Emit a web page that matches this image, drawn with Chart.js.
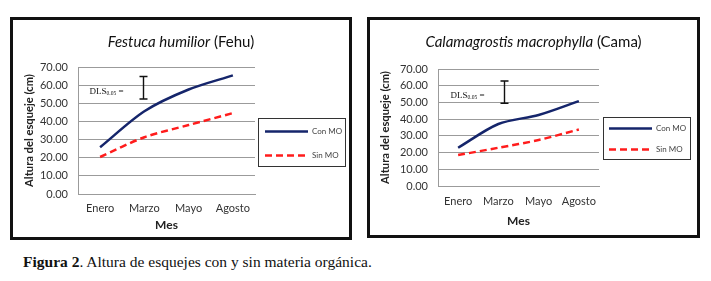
<!DOCTYPE html>
<html lang="es">
  <head>
    <meta charset="utf-8" />
    <title>Figura 2</title>
    <style>
      * {
        margin: 0;
        padding: 0;
        box-sizing: border-box;
      }
      body {
        width: 711px;
        height: 281px;
        background: white;
        position: relative;
        overflow: hidden;
        font-family: Lato, sans-serif;
      }
      .frame {
        position: absolute;
        border: 3px solid #111;
        background: white;
      }
      #frameA {
        left: 10px;
        top: 17px;
        width: 342px;
        height: 223px;
      }
      #frameB {
        left: 367px;
        top: 17px;
        width: 333px;
        height: 221px;
      }
      .frame canvas {
        position: absolute;
        left: 0;
        top: 0;
      }
      .title {
        position: absolute;
        left: 0;
        width: 100%;
        top: 12px;
        line-height: 18px;
        text-align: center;
        font-size: 15px;
        color: #111;
        z-index: 2;
      }
      .caption {
        position: absolute;
        left: 23px;
        top: 253px;
        font-family: "Liberation Serif", serif;
        font-size: 15.5px;
        color: #111;
      }
    </style>
  </head>
  <body>
    <div class="frame" id="frameA">
      <div class="title"><i>Festuca humilior</i> (Fehu)</div>
      <canvas id="chartA" width="336" height="217"></canvas>
    </div>
    <div class="frame" id="frameB">
      <div class="title"><i>Calamagrostis macrophylla</i> (Cama)</div>
      <canvas id="chartB" width="327" height="215"></canvas>
    </div>
    <div class="caption"><b>Figura 2</b>. Altura de esquejes con y sin materia orgánica.</div>

    <script src="https://cdn.jsdelivr.net/npm/chart.js"></script>

    <script>
      // data
      const months = ["Enero", "Marzo", "Mayo", "Agosto"];
      const seriesNames = ["Con MO", "Sin MO"];
      const fehuCon = [25.8, 45.6, 57.6, 65.4];
      const fehuSin = [20.4, 31.3, 38.0, 44.6];
      const camaCon = [22.9, 37.1, 42.5, 50.8];
      const camaSin = [18.5, 22.9, 27.5, 33.8];
      // DLS 0.05 bars (low, high)
      const fehuDls = [52.4, 64.8];
      const camaDls = [49.5, 62.8];
      const yMin = 0;
      const yMax = 70;
      const yStep = 10;

      const navy = "#15256b";
      const red = "#ff1c1c";
      const grey = "#9b9b9b";

      // draws the DLS bar and the boxed legend
      const extras = {
        id: "extras",
        afterDatasetsDraw(chart, args, opts) {
          const { ctx, data, scales } = chart;
          const { x, y } = scales;
          ctx.save();

          // DLS bar
          const bx = Math.round(x.getPixelForValue(opts.dlsAt)) + 0.5;
          const y0 = y.getPixelForValue(opts.dls[0]);
          const y1 = y.getPixelForValue(opts.dls[1]);
          ctx.strokeStyle = "#111";
          ctx.lineWidth = 1.4;
          ctx.beginPath();
          ctx.moveTo(bx, y0);
          ctx.lineTo(bx, y1);
          ctx.moveTo(bx - 4, y0);
          ctx.lineTo(bx + 4, y0);
          ctx.moveTo(bx - 4, y1);
          ctx.lineTo(bx + 4, y1);
          ctx.stroke();

          // DLS label, right end a bit left of the bar
          const ty = (y0 + y1) / 2 + 3.5;
          const big = "9px 'Liberation Serif', serif";
          const small = "5.5px 'Liberation Serif', serif";
          ctx.fillStyle = "#111";
          ctx.textBaseline = "middle";
          ctx.textAlign = "left";
          ctx.font = big;
          const w1 = ctx.measureText("DLS").width;
          const w3 = ctx.measureText(" =").width;
          ctx.font = small;
          const w2 = ctx.measureText("0.05").width;
          let tx = bx - 20 - (w1 + w2 + w3);
          ctx.font = big;
          ctx.fillText("DLS", tx, ty);
          ctx.font = small;
          ctx.fillText("0.05", tx + w1, ty + 2);
          ctx.font = big;
          ctx.fillText(" =", tx + w1 + w2, ty);

          // legend box
          const lg = opts.legend;
          ctx.strokeStyle = "#333";
          ctx.lineWidth = 1;
          ctx.setLineDash([]);
          ctx.strokeRect(lg.left + 0.5, lg.top + 0.5, lg.width, lg.height);
          ctx.font = "8px Lato, sans-serif";
          data.datasets.forEach((ds, i) => {
            const ly = lg.top + lg.rows[i] + 0.5;
            ctx.strokeStyle = ds.borderColor;
            ctx.lineWidth = ds.borderWidth;
            ctx.setLineDash(ds.borderDash || []);
            ctx.beginPath();
            ctx.moveTo(lg.left + lg.lineX[0], ly);
            ctx.lineTo(lg.left + lg.lineX[1], ly);
            ctx.stroke();
            ctx.fillStyle = "#444";
            ctx.fillText(ds.label, lg.left + lg.textX, ly);
          });
          ctx.restore();
        },
      };

      function makeChart(id, con, sin, o) {
        return new Chart(document.getElementById(id), {
          type: "line",
          data: {
            labels: months,
            datasets: [
              {
                label: seriesNames[0],
                data: con,
                borderColor: navy,
                borderWidth: 2.5,
                pointRadius: 0,
                tension: 0.3,
                fill: false,
              },
              {
                label: seriesNames[1],
                data: sin,
                borderColor: red,
                borderWidth: 2.5,
                borderDash: [7, 4],
                pointRadius: 0,
                tension: 0.3,
                fill: false,
              },
            ],
          },
          options: {
            responsive: false,
            animation: false,
            layout: { padding: { top: o.top, right: o.right, bottom: 0, left: 0 } },
            plugins: {
              legend: { display: false },
              tooltip: { enabled: false },
              extras: { dlsAt: o.dlsAt, dls: o.dls, legend: o.legend },
            },
            scales: {
              x: {
                offset: true,
                afterFit: (s) => { s.height = o.xHeight; },
                grid: { display: false, drawTicks: false },
                border: { display: true, color: grey },
                ticks: { padding: o.xPad, color: "#333", font: { family: "Lato", size: 11 } },
                title: {
                  display: true,
                  text: "Mes",
                  color: "#222",
                  font: { family: "Lato", size: 12, weight: "bold" },
                  padding: { top: 0, bottom: o.mesPad },
                },
              },
              y: {
                min: yMin,
                max: yMax,
                afterFit: (s) => { s.width = o.yWidth; },
                grid: { color: grey, drawTicks: false },
                border: { display: true, color: grey },
                ticks: {
                  stepSize: yStep,
                  padding: 10,
                  color: "#333",
                  font: { family: "Lato", size: 11 },
                  callback: (v) => v.toFixed(2),
                },
                title: {
                  display: true,
                  text: "Altura del esqueje (cm)",
                  color: "#222",
                  font: { family: "Lato", size: 11.2, weight: "bold" },
                  padding: { top: o.yTitlePad, bottom: 0 },
                },
              },
            },
          },
          plugins: [extras],
        });
      }

      makeChart("chartA", fehuCon, fehuSin, {
        top: 47, right: 94, yWidth: 65, xHeight: 43, xPad: 8, mesPad: 5, yTitlePad: 9.5,
        dlsAt: 0.97, dls: fehuDls,
        legend: { left: 245, top: 98, width: 87, height: 48, rows: [13, 37], lineX: [7, 50], textX: 54 },
      });
      makeChart("chartB", camaCon, camaSin, {
        top: 49, right: 98, yWidth: 68, xHeight: 49, xPad: 9, mesPad: 7, yTitlePad: 8.5,
        dlsAt: 1.14, dls: camaDls,
        legend: { left: 233, top: 97, width: 87, height: 42, rows: [11, 32], lineX: [6, 49], textX: 53 },
      });
    </script>
  </body>
</html>
